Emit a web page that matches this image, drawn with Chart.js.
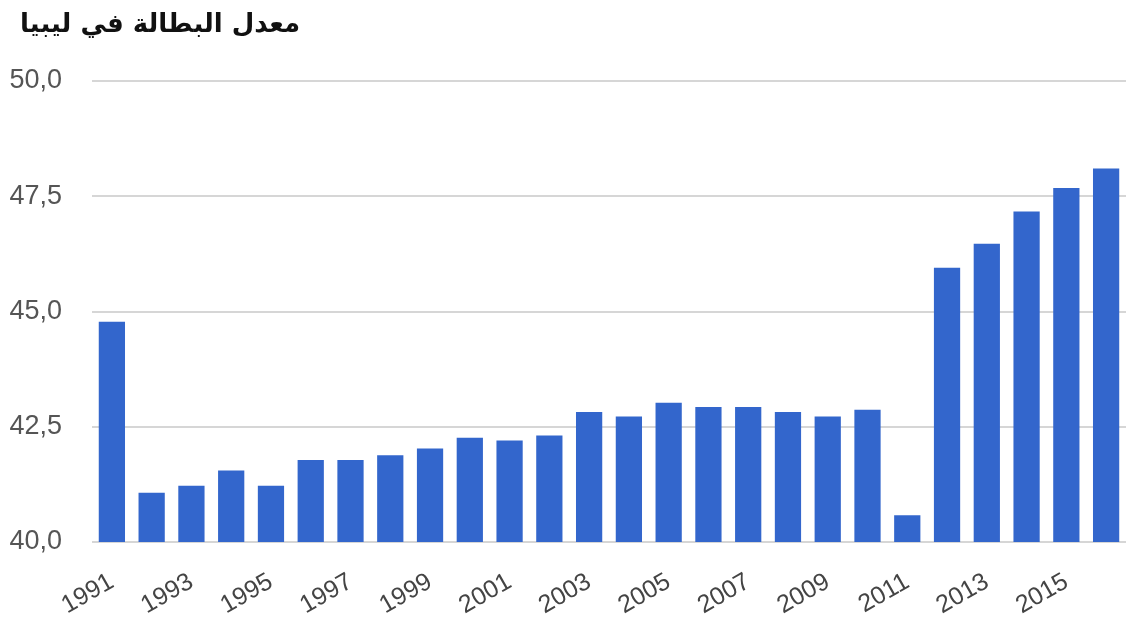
<!DOCTYPE html>
<html lang="ar">
<head>
    <meta charset="UTF-8">
    <title>معدل البطالة في ليبيا</title>
    <script src="https://cdn.jsdelivr.net/npm/chart.js"></script>
    <style>
        html, body {
            margin: 0;
            padding: 0;
            background: #ffffff;
            width: 1126px;
            height: 623px;
            overflow: hidden;
        }

        .wrap {
            position: relative;
            width: 1126px;
            height: 623px;
        }

        .title {
            position: absolute;
            left: 20px;
            top: 8px;
            font-family: 'DejaVu Sans', sans-serif;
            font-weight: bold;
            font-size: 26px;
            color: #111;
            direction: rtl;
        }
    </style>
</head>
<body>
    <div class="wrap">
        <div class="title">معدل البطالة في ليبيا</div>
        <canvas id="chart" width="1126" height="623"></canvas>
    </div>

    <script>
        const years = [
            '1991', '1992', '1993', '1994', '1995', '1996', '1997', '1998', '1999',
            '2000', '2001', '2002', '2003', '2004', '2005', '2006', '2007', '2008',
            '2009', '2010', '2011', '2012', '2013', '2014', '2015', '2016'
        ];
        const unemployment = [
            44.78, 41.07, 41.22, 41.55, 41.22, 41.78, 41.78, 41.88, 42.03,
            42.26, 42.2, 42.31, 42.82, 42.72, 43.02, 42.93, 42.93, 42.82,
            42.72, 42.87, 40.58, 45.95, 46.47, 47.17, 47.68, 48.1
        ];
        const yTicks = [40, 42.5, 45, 47.5, 50];

        const ctx = document.getElementById('chart').getContext('2d');
        new Chart(ctx, {
            type: 'bar',
            data: {
                labels: years,
                datasets: [{
                    data: unemployment,
                    backgroundColor: '#3366cc',
                    categoryPercentage: 1,
                    barPercentage: 0.66
                }]
            },
            options: {
                responsive: false,
                animation: false,
                layout: { padding: { top: 81, right: 0, bottom: 0, left: 0 } },
                plugins: {
                    legend: { display: false },
                    tooltip: { enabled: false }
                },
                scales: {
                    x: {
                        grid: { display: false },
                        border: { display: false },
                        ticks: {
                            autoSkip: false,
                            maxRotation: 30,
                            minRotation: 30,
                            padding: 17,
                            color: '#444',
                            font: { family: 'Liberation Sans', size: 25 },
                            callback: (v, i) => (i % 2 === 0 ? years[i] : '')
                        },
                        afterFit: axis => {
                            axis.height = 81;
                            axis.paddingLeft = 0;
                            axis.paddingRight = 0;
                        }
                    },
                    y: {
                        min: 40,
                        max: 50,
                        afterBuildTicks: axis => {
                            axis.ticks = yTicks.map(v => ({ value: v }));
                        },
                        grid: { color: '#d6d6d6', lineWidth: 2, drawTicks: false },
                        border: { display: false },
                        ticks: {
                            padding: 30,
                            color: '#555',
                            font: { family: 'Liberation Sans', size: 27 },
                            callback: v => v.toFixed(1).replace('.', ',')
                        },
                        afterFit: axis => { axis.width = 92; }
                    }
                }
            }
        });
    </script>
</body>
</html>
